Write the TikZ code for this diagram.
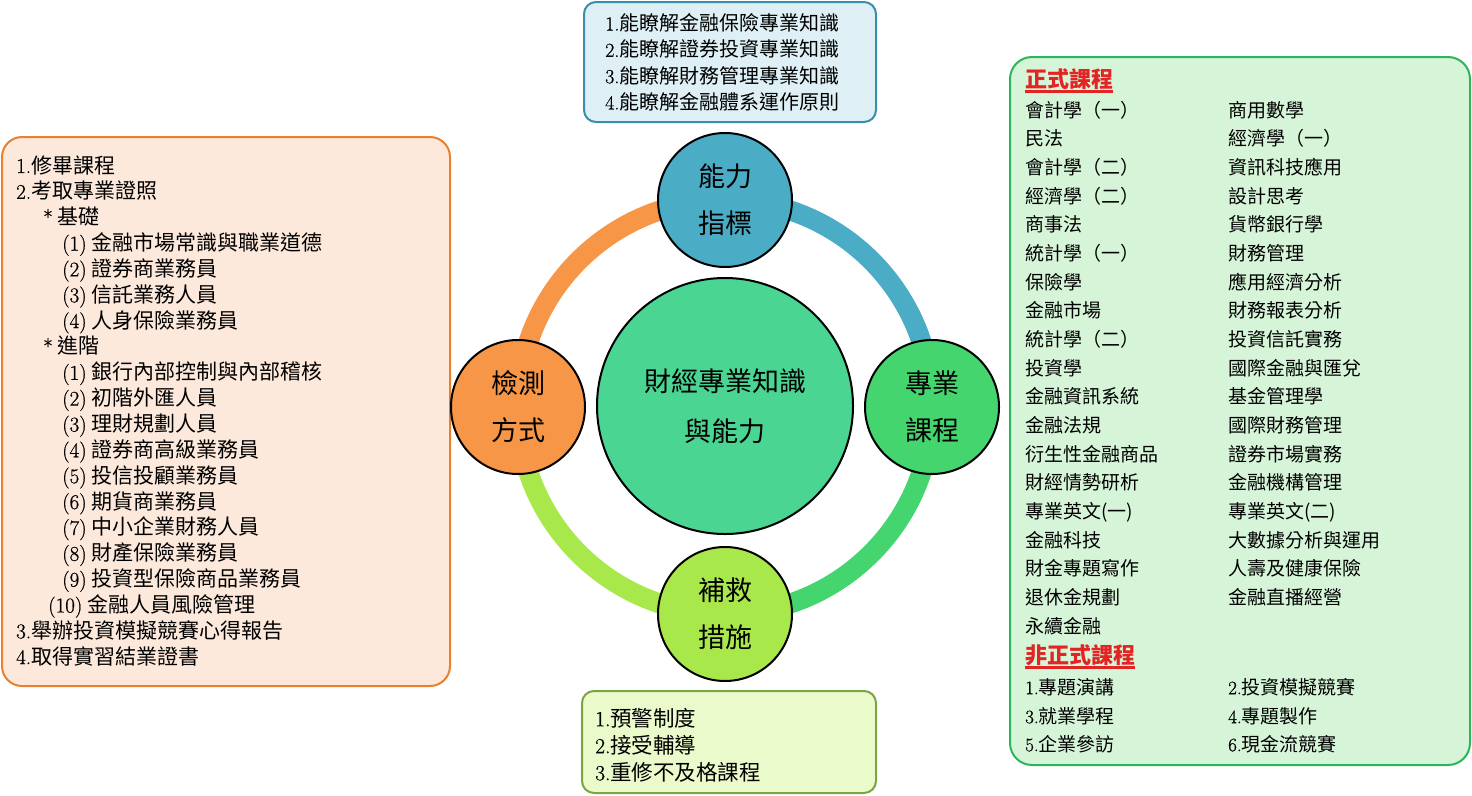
\documentclass[tikz,border=0pt]{standalone}
\usepackage{fontspec}
\newfontfamily\cjk{Noto Sans CJK TC}
\newfontfamily\dig[FakeBold=0.7]{Latin Modern Roman}
\newcommand\Lm[1]{{\dig #1}}
\definecolor{cBlue}{HTML}{4BACC6}
\definecolor{cOrange}{HTML}{F79646}
\definecolor{cGreen}{HTML}{44D56E}
\definecolor{cLime}{HTML}{A9E84A}
\definecolor{cCenter}{HTML}{4AD593}
\definecolor{bTopFill}{HTML}{DEF0F5}
\definecolor{bTopLine}{HTML}{3B8EAA}
\definecolor{bLeftFill}{HTML}{FDE9DB}
\definecolor{bLeftLine}{HTML}{E8802E}
\definecolor{bRightFill}{HTML}{D6F5D8}
\definecolor{bRightLine}{HTML}{2DB55C}
\definecolor{bBotFill}{HTML}{EBFACB}
\definecolor{bBotLine}{HTML}{7BA544}
\definecolor{titleRed}{HTML}{E32424}
\pgfdeclarelayer{background}
\pgfsetlayers{background,main}
\begin{document}
\begin{tikzpicture}[x=1pt,y=-1pt,
  box/.style={rectangle, draw, line width=2pt, inner sep=0pt},
  sat/.style={circle, draw=black, line width=2pt, minimum size=134pt, inner sep=0pt, align=center,
     font=\cjk\fontsize{27}{47}\selectfont},
  ring/.style={line width=20pt},
  lnL/.style={anchor=base west, inner sep=0pt, font=\cjk\fontsize{21}{25}\selectfont},
  lnT/.style={anchor=base west, inner sep=0pt, font=\cjk\fontsize{20}{25}\selectfont},
  lnR/.style={anchor=base west, inner sep=0pt, font=\cjk\fontsize{19}{25}\selectfont},
  lnB/.style={anchor=base west, inner sep=0pt, font=\cjk\fontsize{21.5}{25}\selectfont},
  ttl/.style={anchor=base west, inner sep=0pt, text=titleRed, font=\cjk\bfseries\fontsize{22}{25}\selectfont},
]
\useasboundingbox (0,0) rectangle (1472,795);

% boxes
\node[box, draw=bTopLine, fill=bTopFill, minimum width=292pt, minimum height=120pt, rounded corners=12pt] (topbox) at (730,62) {};
\node[box, draw=bLeftLine, fill=bLeftFill, minimum width=448pt, minimum height=549pt, rounded corners=20pt] (leftbox) at (226,411.5) {};
\node[box, draw=bRightLine, fill=bRightFill, minimum width=460pt, minimum height=708pt, rounded corners=22pt] (rightbox) at (1240,411) {};
\node[box, draw=bBotLine, fill=bBotFill, minimum width=294pt, minimum height=102pt, rounded corners=12pt] (botbox) at (729,742) {};

% top box text
\foreach \t [count=\i] in {
  {\Lm{1.}能瞭解金融保險專業知識},
  {\Lm{2.}能瞭解證券投資專業知識},
  {\Lm{3.}能瞭解財務管理專業知識},
  {\Lm{4.}能瞭解金融體系運作原則}}{
  \node[lnT] (T\i) at (605,{23+26.3*(\i-1)+7.6}) {\t};
}

% left box text
\foreach \t/\xx [count=\i] in {
  {\Lm{1.}修畢課程}/16,
  {\Lm{2.}考取專業證照}/16,
  {\Lm{*} 基礎}/43,
  {\Lm{(1)} 金融市場常識與職業道德}/62,
  {\Lm{(2)} 證券商業務員}/62,
  {\Lm{(3)} 信託業務人員}/62,
  {\Lm{(4)} 人身保險業務員}/62,
  {\Lm{*} 進階}/43,
  {\Lm{(1)} 銀行內部控制與內部稽核}/62,
  {\Lm{(2)} 初階外匯人員}/62,
  {\Lm{(3)} 理財規劃人員}/62,
  {\Lm{(4)} 證券商高級業務員}/62,
  {\Lm{(5)} 投信投顧業務員}/62,
  {\Lm{(6)} 期貨商業務員}/62,
  {\Lm{(7)} 中小企業財務人員}/62,
  {\Lm{(8)} 財產保險業務員}/62,
  {\Lm{(9)} 投資型保險商品業務員}/62,
  {\Lm{(10)} 金融人員風險管理}/48,
  {\Lm{3.}舉辦投資模擬競賽心得報告}/16,
  {\Lm{4.}取得實習結業證書}/16}{
  \node[lnL] (L\i) at (\xx,{165+25.85*(\i-1)+8}) {\t};
}

% right box text
\node[ttl] (t1) at (1025,{79+8.4}) {正式課程};
\draw[titleRed, line width=2.2pt] ([yshift=-4pt]t1.base west) -- ([yshift=-4pt]t1.base east);
\foreach \t [count=\i] in {會計學（一）,民法,會計學（二）,經濟學（二）,商事法,統計學（一）,保險學,金融市場,統計學（二）,投資學,金融資訊系統,金融法規,衍生性金融商品,財經情勢研析,專業英文(一),金融科技,財金專題寫作,退休金規劃,永續金融}{
  \node[lnR] (RA\i) at (1025,{110+28.67*(\i-1)+7.2}) {\t};
}
\foreach \t [count=\i] in {商用數學,經濟學（一）,資訊科技應用,設計思考,貨幣銀行學,財務管理,應用經濟分析,財務報表分析,投資信託實務,國際金融與匯兌,基金管理學,國際財務管理,證券市場實務,金融機構管理,專業英文(二),大數據分析與運用,人壽及健康保險,金融直播經營}{
  \node[lnR] (RB\i) at (1228,{110+28.67*(\i-1)+7.2}) {\t};
}
\node[ttl] (t2) at (1025,{655+8.4}) {非正式課程};
\draw[titleRed, line width=2.2pt] ([yshift=-4pt]t2.base west) -- ([yshift=-4pt]t2.base east);
\node[lnR] (N1) at (1025,{687+7.2}) {\Lm{1.}專題演講};
\node[lnR] (N2) at (1228,{687+7.2}) {\Lm{2.}投資模擬競賽};
\node[lnR] (N3) at (1025,{716+7.2}) {\Lm{3.}就業學程};
\node[lnR] (N4) at (1228,{716+7.2}) {\Lm{4.}專題製作};
\node[lnR] (N5) at (1025,{744+7.2}) {\Lm{5.}企業參訪};
\node[lnR] (N6) at (1228,{744+7.2}) {\Lm{6.}現金流競賽};

% bottom box text
\node[lnB] (B1) at (595,{718+8.2}) {\Lm{1.}預警制度};
\node[lnB] (B2) at (595,{745+8.2}) {\Lm{2.}接受輔導};
\node[lnB] (B3) at (595,{772+8.2}) {\Lm{3.}重修不及格課程};

% circles
\node[sat, fill=cBlue] (cap) at (725,200) {能力\\指標};
\node[sat, fill=cGreen] (cpro) at (932,407) {專業\\課程};
\node[sat, fill=cLime] (crem) at (725,614) {補救\\措施};
\node[sat, fill=cOrange] (ctest) at (518,407) {檢測\\方式};
\node[circle, draw=black, line width=2pt, fill=cCenter, minimum size=256pt, inner sep=0pt, align=center,
  font=\cjk\fontsize{27}{50}\selectfont] (core) at (725,406) {財經專業知識\\與能力};

% ring
\begin{pgfonlayer}{background}
\draw[ring, draw=cBlue] (cap.center) arc[start angle=-90, end angle=0, radius=207];
\draw[ring, draw=cGreen] (cpro.center) arc[start angle=0, end angle=90, radius=207];
\draw[ring, draw=cLime] (crem.center) arc[start angle=90, end angle=180, radius=207];
\draw[ring, draw=cOrange] (ctest.center) arc[start angle=180, end angle=270, radius=207];
\end{pgfonlayer}
\end{tikzpicture}
\end{document}
